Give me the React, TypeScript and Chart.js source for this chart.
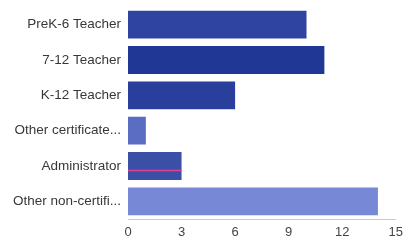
import React, { useEffect, useRef } from "react";
import { Chart, registerables } from "chart.js";

Chart.register(...registerables);

const categories = [
  "PreK-6 Teacher",
  "7-12 Teacher",
  "K-12 Teacher",
  "Other certificate...",
  "Administrator",
  "Other non-certifi...",
];
const counts = [10, 11, 6, 1, 3, 14];
const barColors = ["#2e44a0", "#213795", "#2a3f9c", "#5a6dc2", "#3b4fa7", "#7788d6"];
const xTicks = [0, 3, 6, 9, 12, 15];

const pinkLine = {
  id: "pinkLine",
  afterDatasetsDraw(chart: any) {
    const meta = chart.getDatasetMeta(0);
    const el = meta.data[4];
    if (!el) return;
    const ctx = chart.ctx;
    ctx.save();
    ctx.strokeStyle = "#e0409a";
    ctx.lineWidth = 1.5;
    ctx.beginPath();
    ctx.moveTo(el.base, el.y + 4.5);
    ctx.lineTo(el.x, el.y + 4.5);
    ctx.stroke();
    ctx.restore();
  },
};

export default function App() {
  const ref = useRef<HTMLCanvasElement>(null);
  useEffect(() => {
    if (!ref.current) return;
    const chart = new Chart(ref.current, {
      type: "bar",
      data: {
        labels: categories,
        datasets: [
          {
            data: counts,
            backgroundColor: barColors,
            borderWidth: 0,
            barPercentage: 0.79,
            categoryPercentage: 1,
          },
        ],
      },
      options: {
        indexAxis: "y",
        animation: false,
        responsive: false,
        maintainAspectRatio: false,
        layout: { padding: { top: 7, right: 9, left: 0, bottom: 0 } },
        plugins: { legend: { display: false }, tooltip: { enabled: false } },
        scales: {
          x: {
            min: 0,
            max: 15,
            afterBuildTicks(axis: any) {
              axis.ticks = xTicks.map((v) => ({ value: v }));
            },
            afterFit(axis: any) {
              axis.height = 23;
            },
            grid: { display: false, drawTicks: false },
            border: { display: true, color: "#c8c8c8", dash: [2, 2], width: 1 },
            ticks: {
              color: "#444",
              padding: 6,
              font: { family: "Liberation Sans, Arial, sans-serif", size: 13 },
            },
          },
          y: {
            afterFit(axis: any) {
              axis.width = 128;
              axis.paddingTop = 0;
              axis.paddingBottom = 0;
            },
            grid: { display: false, drawTicks: false },
            border: { display: false },
            ticks: {
              color: "#383838",
              padding: 7,
              font: { family: "Liberation Sans, Arial, sans-serif", size: 13.5 },
            },
          },
        },
      },
      plugins: [pinkLine],
    });
    return () => chart.destroy();
  }, []);
  return (
    <div style={{ position: "fixed", left: 0, top: 0, width: 409, height: 242, background: "#fff" }}>
      <canvas ref={ref} width={409} height={242} style={{ width: 409, height: 242 }} />
    </div>
  );
}
